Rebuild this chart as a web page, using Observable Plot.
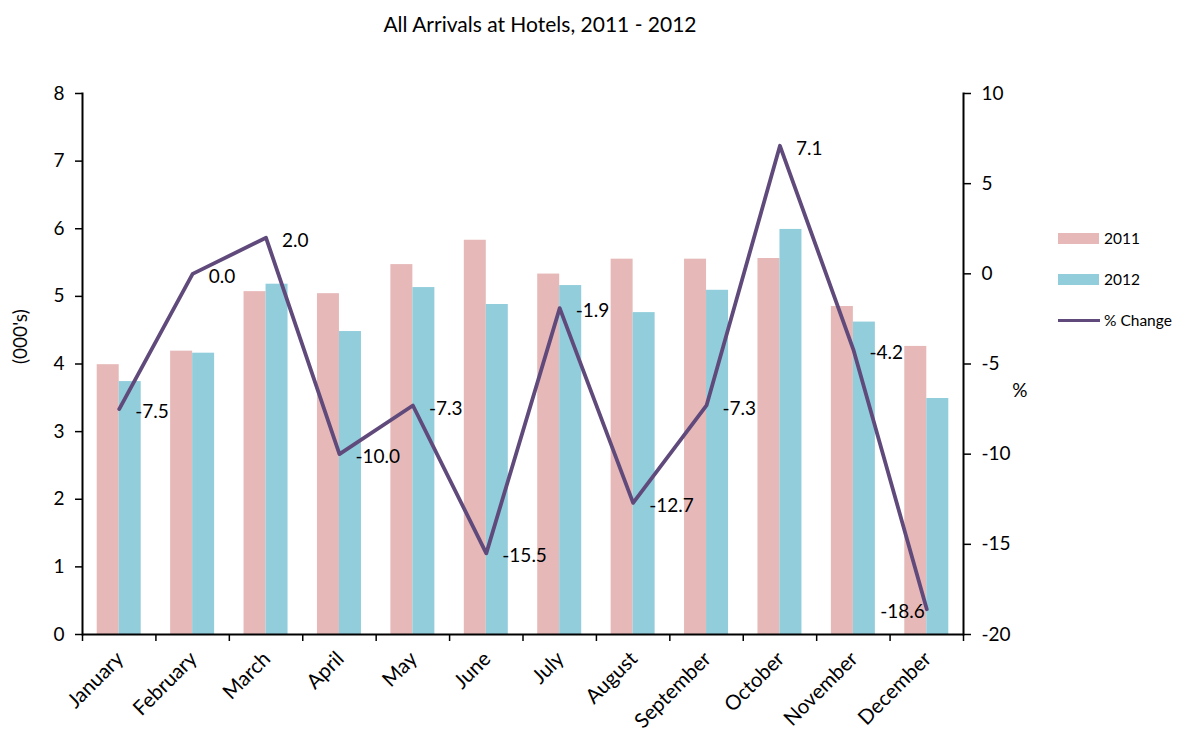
<!DOCTYPE html>
<html>
<head>
<meta charset="utf-8">
<script src="https://cdn.jsdelivr.net/npm/d3@7"></script>
<script src="https://cdn.jsdelivr.net/npm/@observablehq/plot@0.6"></script>
<style>
  body { margin: 0; background: #fff; font-family: Lato, "Open Sans", sans-serif; }
  #wrap { position: relative; width: 1177px; height: 732px; }
  #title { position: absolute; left: 0; width: 1080px; top: 11px; text-align: center; font-size: 21px; color: #000; }
  .leg { position: absolute; left: 1058px; font-size: 15.5px; color: #000; display: flex; align-items: center; }
  .sw { width: 41px; height: 11px; margin-right: 5px; }
  .ln { width: 42px; height: 3px; margin-right: 4px; background: #604A7B; }
</style>
</head>
<body>
<div id="wrap">
  <div id="title">All Arrivals at Hotels, 2011 - 2012</div>
  <div id="chart"></div>
  <div class="leg" style="top:229px"><div class="sw" style="background:#E6B9B8"></div>2011</div>
  <div class="leg" style="top:270px"><div class="sw" style="background:#92CDDC"></div>2012</div>
  <div class="leg" style="top:311px"><div class="ln"></div>% Change</div>
</div>
<script>
const months = ["January","February","March","April","May","June","July","August","September","October","November","December"];
const arrivals2011 = [3.99, 4.19, 5.07, 5.04, 5.47, 5.83, 5.33, 5.55, 5.55, 5.56, 4.85, 4.26];
const arrivals2012 = [3.74, 4.16, 5.18, 4.48, 5.13, 4.88, 5.16, 4.76, 5.09, 5.99, 4.62, 3.49];
const pctChange = [-7.5, 0.0, 2.0, -10.0, -7.3, -15.5, -1.9, -12.7, -7.3, 7.1, -4.2, -18.6];
const leftTicks = [0,1,2,3,4,5,6,7,8];
const rightTicks = [10,5,0,-5,-10,-15,-20];

const W = 1177, H = 732, mL = 82, mR = 214, mT = 93, mB = 98;
const bw = (W - mL - mR) / months.length;
const barW = 22;
// map percent axis [-20,10] onto the left axis [0,8]
const pctToY = p => (p + 20) * 8 / 30;
const yToPct = v => Math.round(v * 30 / 8 - 20);

const rows = months.map((m, i) => ({month: m, a: arrivals2011[i], b: arrivals2012[i], p: pctChange[i]}));

const font = "Lato, 'Open Sans', sans-serif";
const FS = 19;

const chart = Plot.plot({
  width: W, height: H,
  marginLeft: mL, marginRight: mR, marginTop: mT, marginBottom: mB,
  style: {fontFamily: font, fontSize: FS + "px", color: "#000", background: "#fff"},
  x: {type: "band", domain: months, padding: 0, round: false},
  y: {domain: [0, 8]},
  marks: [
    Plot.barY(rows, {x: "month", y: "a", fill: "#E6B9B8", insetLeft: bw/2 - barW, insetRight: bw/2}),
    Plot.barY(rows, {x: "month", y: "b", fill: "#92CDDC", insetLeft: bw/2, insetRight: bw/2 - barW}),
    Plot.line(rows, {x: "month", y: d => pctToY(d.p), stroke: "#604A7B", strokeWidth: 3.8, strokeLinecap: "round", strokeLinejoin: "round"}),
    Plot.text(rows.filter(d => d.month !== "December"), {x: "month", y: d => pctToY(d.p), text: d => d.p.toFixed(1), textAnchor: "start", dx: 16, dy: 3, fontSize: FS, fill: "#000"}),
    Plot.text(rows.filter(d => d.month === "December"), {x: "month", y: d => pctToY(d.p), text: d => d.p.toFixed(1), textAnchor: "end", dx: -2, dy: 3, fontSize: FS, fill: "#000"}),
    // axis lines
    Plot.ruleY([0], {stroke: "#000", strokeWidth: 2}),
    Plot.frame({anchor: "left", stroke: "#000", strokeWidth: 2}),
    Plot.frame({anchor: "right", stroke: "#000", strokeWidth: 2}),
    // left axis
    Plot.axisY({ticks: leftTicks, tickSize: 7, tickPadding: 11, tickFormat: d => d, label: null, fontSize: FS, stroke: "#000", strokeWidth: 1.5}),
    // right axis (percent)
    Plot.axisY({anchor: "right", ticks: rightTicks.map(pctToY), tickSize: 7, tickPadding: 11, tickFormat: yToPct, label: null, fontSize: FS, stroke: "#000", strokeWidth: 1.5}),
    // x boundary ticks
    Plot.axisX({ticks: months, tickSize: 7, text: null, label: null, dx: -bw/2, stroke: "#000", strokeWidth: 1.5}),
    Plot.axisX({ticks: ["December"], tickSize: 7, text: null, label: null, dx: bw/2, stroke: "#000", strokeWidth: 1.5}),
    // x labels
    Plot.axisX({ticks: months, tickSize: 0, tickPadding: 21, tickRotate: -45, label: null, fontSize: 20.5, dx: 1}),
    // axis titles
    Plot.text(["(000's)"], {frameAnchor: "left", dx: -62, rotate: -90, fontSize: FS, fill: "#000"}),
    Plot.text(["%"], {frameAnchor: "right", dx: 64, dy: 27, fontSize: FS, fill: "#000"})
  ]
});
document.getElementById("chart").appendChild(chart);
</script>
</body>
</html>
